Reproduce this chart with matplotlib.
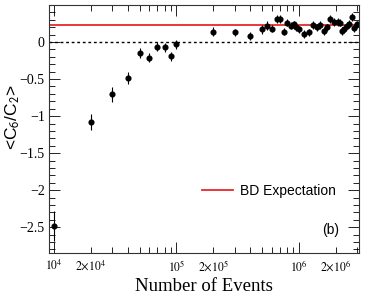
import numpy as np
import matplotlib
matplotlib.use('Agg')
import matplotlib.pyplot as plt
from matplotlib.ticker import FixedLocator, FuncFormatter, MultipleLocator

plt.rcParams['mathtext.fontset'] = 'stix'

# Data
nevents = [1e4, 2e4, 3e4, 4e4, 5e4, 6e4, 7e4, 8e4, 9e4, 1e5,
           2e5, 3e5, 4e5, 5e5, 5.5e5, 6e5, 6.6e5, 7e5, 7.6e5, 8e5,
           8.6e5, 9.1e5, 9.5e5, 1e6, 1.1e6, 1.2e6, 1.3e6, 1.4e6, 1.5e6, 1.6e6,
           1.7e6, 1.8e6, 1.95e6, 2.07e6, 2.17e6, 2.24e6, 2.35e6, 2.46e6, 2.56e6, 2.7e6,
           2.8e6, 3.0e6]
ratio = [-2.48, -1.077, -0.703, -0.48, -0.149, -0.21, -0.063, -0.068, -0.19, -0.03,
         0.14, 0.13, 0.08, 0.17, 0.22, 0.18, 0.31, 0.31, 0.14, 0.26,
         0.22, 0.24, 0.20, 0.17, 0.11, 0.13, 0.23, 0.20, 0.23, 0.15,
         0.20, 0.31, 0.27, 0.27, 0.26, 0.15, 0.18, 0.22, 0.25, 0.34,
         0.19, 0.24]
err = [0.2, 0.11, 0.1, 0.08, 0.07, 0.06, 0.06, 0.06, 0.06, 0.06,
       0.06, 0.05, 0.05, 0.06, 0.06, 0.05, 0.05, 0.05, 0.05, 0.05,
       0.05, 0.05, 0.05, 0.05, 0.05, 0.05, 0.05, 0.05, 0.05, 0.05,
       0.05, 0.05, 0.05, 0.05, 0.05, 0.05, 0.05, 0.05, 0.05, 0.05,
       0.05, 0.05]
BD_EXPECT = 0.23

fig = plt.figure(figsize=(3.74, 2.94), dpi=100)
ax = fig.add_axes([0.131, 0.139, 0.829, 0.844])

ax.axhline(0, color='k', ls=(0, (2, 2)), lw=1.0)
ax.axhline(BD_EXPECT, color='#e8282a', lw=1.3, label='BD Expectation')
ax.errorbar(nevents, ratio, yerr=err, fmt='o', color='k', ms=3.4, elinewidth=0.8,
            capsize=0)

ax.set_xscale('log')
ax.set_xlim(9.1e3, 3.1e6)
ax.set_ylim(-2.85, 0.5)

decades = [1e4, 1e5, 1e6]
subs = [d * s for d in [1e3, 1e4, 1e5, 1e6] for s in range(2, 10)]
ax.xaxis.set_major_locator(FixedLocator(decades))
ax.xaxis.set_minor_locator(FixedLocator(subs))

def major_fmt(x, pos):
    return r'$10^{%d}$' % int(round(np.log10(x)))

def minor_fmt(x, pos):
    e = int(np.floor(np.log10(x) + 1e-9))
    m = x / 10**e
    if abs(m - 2) < 1e-6 and 4 <= e <= 6:
        return r'$2{\times}10^{%d}$' % e
    return ''

def y_fmt(v, pos):
    if v > 0.4:
        return ''
    if abs(v) < 1e-9:
        return '0'
    return ('%g' % v).replace('-', '\u2212')

ax.xaxis.set_major_formatter(FuncFormatter(major_fmt))
ax.xaxis.set_minor_formatter(FuncFormatter(minor_fmt))
ax.yaxis.set_major_locator(MultipleLocator(0.5))
ax.yaxis.set_minor_locator(MultipleLocator(0.1))
ax.yaxis.set_major_formatter(FuncFormatter(y_fmt))

ax.tick_params(which='both', direction='in', top=True, right=True, width=0.6, pad=4)
ax.tick_params(axis='x', which='both', labelsize=8.5)
ax.tick_params(axis='y', which='both', labelsize=10, pad=3)
ax.tick_params(which='major', length=8)
ax.tick_params(which='minor', length=4)
for lab in ax.get_xticklabels(which='both') + ax.get_yticklabels():
    lab.set_family('Liberation Serif')
for s in ax.spines.values():
    s.set_linewidth(0.8)
    s.set_color('#333333')

ax.set_xlabel('Number of Events', family='Liberation Serif', fontsize=13.5)
ax.xaxis.set_label_coords(0.5, -0.1)
ax.set_ylabel(r'<C$_\mathsf{6}$/C$_\mathsf{2}$>', family='Liberation Sans', fontsize=12.5)
ax.yaxis.set_label_coords(-0.086, 0.55)

ax.legend(loc='center right', bbox_to_anchor=(0.965, 0.25), frameon=False,
          prop={'family': 'Liberation Sans', 'size': 10}, handlelength=2.2,
          handletextpad=0.5)
ax.text(0.935, 0.095, '(b)', transform=ax.transAxes, ha='right', va='center',
        family='Liberation Sans', fontsize=10)

fig.savefig('out.png', dpi=100)
